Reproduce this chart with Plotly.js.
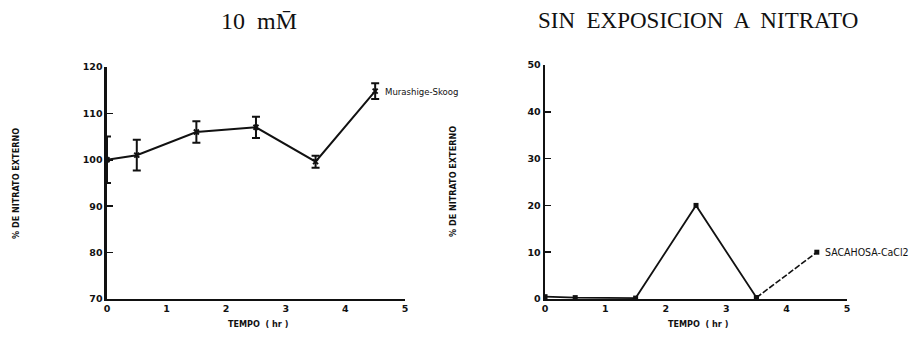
<!DOCTYPE html>
<html>
<head>
<meta charset="utf-8">
<script src="https://cdn.plot.ly/plotly-3.0.1.min.js"></script>
<style>html,body{margin:0;padding:0;background:#fff;}#chart{width:916px;height:345px;}</style>
</head>
<body>
<div id="chart"></div>
<script>
// Data
const tiempo = [0, 0.5, 1.5, 2.5, 3.5, 4.5];
const nitratoMS = [100, 101, 106, 107, 99.6, 114.8];
const errorMS = [5, 3.3, 2.3, 2.3, 1.3, 1.7];
const nitratoSac = [0.5, 0.3, 0.2, 20, 0.3, 10];
const xTicks = [0, 1, 2, 3, 4, 5];
const yTicksLeft = [70, 80, 90, 100, 110, 120];
const yTicksRight = [0, 10, 20, 30, 40, 50];
const serieLeft = "Murashige-Skoog";
const serieRight = "SACAHOSA-CaCl2";

const black = '#111';
const tickFont = {family: 'DejaVu Sans', size: 9.5, color: black, weight: 'bold'};

const traces = [
  {
    x: tiempo, y: nitratoMS, xaxis: 'x', yaxis: 'y', type: 'scatter', mode: 'lines+markers',
    line: {color: black, width: 2}, marker: {color: black, size: 5, symbol: 'x-thin', line: {color: black, width: 2}},
    error_y: {type: 'data', array: errorMS, visible: true, color: black, thickness: 2, width: 4},
    showlegend: false
  },
  {
    x: tiempo.slice(0, 5), y: nitratoSac.slice(0, 5), xaxis: 'x2', yaxis: 'y2', type: 'scatter', mode: 'lines+markers',
    line: {color: black, width: 1.8}, marker: {color: black, size: 5, symbol: 'square'},
    showlegend: false
  },
  {
    x: tiempo.slice(4), y: nitratoSac.slice(4), xaxis: 'x2', yaxis: 'y2', type: 'scatter', mode: 'lines+markers',
    line: {color: black, width: 1.6, dash: '6px,2px'}, marker: {color: black, size: 5, symbol: 'square'},
    showlegend: false
  }
];

const axisBase = {
  showgrid: false, zeroline: false, showline: true, linecolor: black,
  tickfont: tickFont, ticks: '', fixedrange: true
};

function ann(text, x, y, font, extra) {
  return Object.assign({text: text, xref: 'paper', yref: 'paper', x: x / 916, y: 1 - y / 345,
    xanchor: 'center', yanchor: 'middle', showarrow: false, font: font}, extra || {});
}
const smallBold = {family: 'DejaVu Sans Condensed', size: 9, color: black, weight: 'bold'};

const layout = {
  width: 916, height: 345,
  margin: {l: 0, r: 0, t: 0, b: 0},
  paper_bgcolor: '#fff', plot_bgcolor: '#fff',
  xaxis: Object.assign({}, axisBase, {domain: [0.1168, 0.4421], range: [0, 5], tickvals: xTicks, linewidth: 2, anchor: 'y', ticklen: 0, tickcolor: black}),
  yaxis: Object.assign({}, axisBase, {domain: [0.1333, 0.8058], range: [70, 120], tickvals: yTicksLeft, linewidth: 2.5, anchor: 'x', ticks: 'inside', ticklen: 6, tickwidth: 1.5, tickcolor: black}),
  xaxis2: Object.assign({}, axisBase, {domain: [0.595, 0.9247], range: [0, 5], tickvals: xTicks, linewidth: 2, anchor: 'y2', ticklen: 0, tickcolor: black}),
  yaxis2: Object.assign({}, axisBase, {domain: [0.1333, 0.8116], range: [0, 50], tickvals: yTicksRight, linewidth: 2.5, anchor: 'x2', ticks: 'inside', ticklen: 6, tickwidth: 1.5, tickcolor: black}),
  annotations: [
    ann('10  mM\u0304', 259, 21, {family: 'Liberation Serif', size: 24, color: black}),
    ann('SIN  EXPOSICION  A  NITRATO', 698, 20, {family: 'Liberation Serif', size: 23, color: black}),
    ann('% DE NITRATO EXTERNO', 16, 184, smallBold, {textangle: -90}),
    ann('% DE NITRATO EXTERNO', 453, 182, smallBold, {textangle: -90}),
    ann('TEMPO  ( hr )', 258, 324, smallBold),
    ann('TEMPO  ( hr )', 698, 324, smallBold),
    {text: serieLeft, xref: 'x', yref: 'y', x: tiempo[5], y: nitratoMS[5], xanchor: 'left', yanchor: 'middle', xshift: 8, showarrow: false,
     font: {family: 'DejaVu Sans Condensed', size: 9.5, color: black}},
    {text: serieRight, xref: 'x2', yref: 'y2', x: tiempo[5], y: nitratoSac[5], xanchor: 'left', yanchor: 'middle', xshift: 6, showarrow: false,
     font: {family: 'DejaVu Sans Condensed', size: 10.5, color: black}}
  ]
};

Plotly.newPlot('chart', traces, layout, {displayModeBar: false, staticPlot: true});
</script>
</body>
</html>
